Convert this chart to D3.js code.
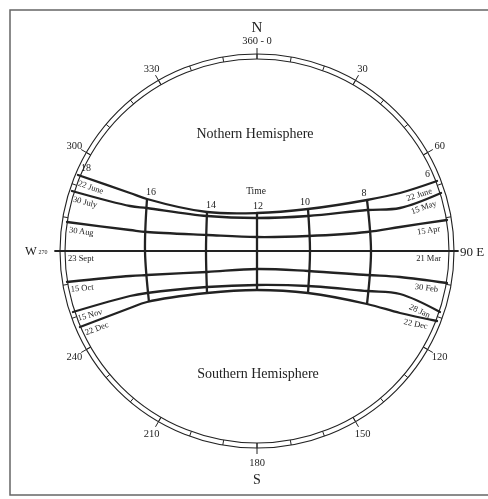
<!DOCTYPE html>
<html><head><meta charset="utf-8">
<script src="https://cdn.jsdelivr.net/npm/d3@7"></script>
<style>html,body{margin:0;padding:0;background:#fff;}svg{display:block;filter:grayscale(100%);}</style>
</head><body>
<svg id="c" width="488" height="499"></svg>
<script>
// ---- data (chart units: origin at dial centre, y up) ----
const compassDeg  = [0, 30, 60, 120, 150, 180, 210, 240, 300, 330];
const compassText = ["360 - 0", "30", "60", "120", "150", "180", "210", "240", "300", "330"];
const minorTickDeg = d3.range(0, 360, 10);

const leftDates  = ["22 June", "30 July", "30 Aug", "23 Sept", "15 Oct", "15 Nov", "22 Dec"];
const rightDates = ["22 June", "15 May", "15 Apr", "21 Mar", "30 Feb", "28 Jan", "22 Dec"];

const curveJune = [[-179,76],[-127,58],[-110,52],[-50,39],[0,38],[51,42],[110,51],[143,58],[180,70]];
const curveJuly = [[-185,60],[-127,45],[-110,43],[-50,35],[0,33],[51,35],[110,41],[143,43],[184,58]];
const curveAug  = [[-190,29],[-127,21],[-110,19],[-50,16],[0,14],[51,15],[110,19],[143,24],[190,31]];
const curveSept = [[-202,0],[201,0]];
const curveOct  = [[-190,-31],[-127,-25],[-110,-24],[-50,-21],[0,-18],[51,-20],[110,-24],[143,-26],[190,-32]];
const curveNov  = [[-184,-61],[-127,-45],[-110,-42],[-50,-36],[0,-34],[51,-35],[110,-40],[143,-43],[183,-61]];
const curveDec  = [[-177,-76],[-127,-57],[-110,-51],[-50,-42],[0,-39],[51,-42],[110,-53],[143,-62],[180,-70]];
const dateCurves = [curveJune, curveJuly, curveAug, curveSept, curveOct, curveNov, curveDec];

const hourLabels = ["18", "16", "14", "12", "10", "8", "6"];
const hour16 = [[-110,52],[-112,0],[-108,-51]];
const hour14 = [[-50,39],[-51,0],[-50,-42]];
const hour12 = [[0,38],[0,0],[0,-39]];
const hour10 = [[51,42],[53,0],[51,-42]];
const hour8  = [[110,51],[114,0],[110,-53]];
const hourLines = [hour16, hour14, hour12, hour10, hour8];

const ringOuter = 197, ringInner = 192, majorTickOut = 203, labelRadius = 211;

// ---- scales ----
const x = d3.scaleLinear().domain([-200, 200]).range([57, 457]);
const y = d3.scaleLinear().domain([-200, 200]).range([451, 51]);
const polar = (deg, r) => [x(r * Math.sin(deg * Math.PI / 180)), y(r * Math.cos(deg * Math.PI / 180))];

const svg = d3.select("#c");
const ink = "#222";
const serif = "'Liberation Serif','Times New Roman',serif";

// frame
svg.append("rect").attr("x", 10).attr("y", 10).attr("width", 500).attr("height", 485)
  .attr("fill", "none").attr("stroke", "#666").attr("stroke-width", 1.5);

// ring
const cx = x(0), cy = y(0);
[ringOuter, ringInner].forEach(r => {
  svg.append("circle").attr("cx", cx).attr("cy", cy).attr("r", x(r) - x(0))
    .attr("fill", "none").attr("stroke", ink).attr("stroke-width", 1.1);
});
svg.append("g").selectAll("line").data(minorTickDeg).join("line")
  .attr("x1", d => polar(d, ringInner)[0]).attr("y1", d => polar(d, ringInner)[1])
  .attr("x2", d => polar(d, ringOuter)[0]).attr("y2", d => polar(d, ringOuter)[1])
  .attr("stroke", ink).attr("stroke-width", 1);
svg.append("g").selectAll("line").data(compassDeg).join("line")
  .attr("x1", d => polar(d, ringInner)[0]).attr("y1", d => polar(d, ringInner)[1])
  .attr("x2", d => polar(d, majorTickOut)[0]).attr("y2", d => polar(d, majorTickOut)[1])
  .attr("stroke", ink).attr("stroke-width", 1);

// date curves
const line = d3.line().x(d => x(d[0])).y(d => y(d[1])).curve(d3.curveCatmullRom.alpha(0.5));
svg.append("g").selectAll("path").data(dateCurves).join("path")
  .attr("d", line).attr("fill", "none").attr("stroke", ink)
  .attr("stroke-width", (d, i) => i === 3 ? 1.8 : 2.3).attr("stroke-linecap", "round");

// hour lines
svg.append("g").selectAll("path").data(hourLines).join("path")
  .attr("d", line).attr("fill", "none").attr("stroke", ink).attr("stroke-width", 2.3);

// ---- text ----
const T = svg.append("g");

T.append("g").selectAll("text").data(compassDeg).join("text")
  .attr("x", d => polar(d, labelRadius)[0]).attr("y", d => polar(d, labelRadius)[1])
  .attr("text-anchor", "middle").attr("dy", "0.35em")
  .attr("font-family", serif).attr("font-size", 10.5).attr("fill", ink)
  .text((d, i) => compassText[i]);

const card = (t, px, py, fs, anchor) => T.append("text").attr("x", px).attr("y", py)
  .attr("text-anchor", anchor || "middle").attr("dy", "0.35em")
  .attr("font-family", serif).attr("font-size", fs).attr("fill", ink).text(t);
card("N", x(0), y(224), 15);
card("S", x(0), y(-228), 14);
card("W", x(-226), y(0), 12.5);
card("270", x(-214), y(-1), 6, "middle");
card("90 E", x(203), y(0), 13, "start");
card("Nothern Hemisphere", x(-2), y(118), 14);
card("Southern Hemisphere", x(1), y(-122), 14);
card("Time", x(-1), y(60), 9.5);

// hour labels
const hourAnchors = [curveJune[0]].concat(hourLines.map(h => h[0])).concat([curveJune[curveJune.length - 1]]);
T.append("g").selectAll("text").data(hourAnchors).join("text")
  .attr("x", (d, i) => x(d[0]) + (i === 0 ? 3 : i === 6 ? -7 : d[0] < 0 ? 4 : d[0] > 0 ? -3 : 1))
  .attr("y", (d, i) => y(d[1]) - 4)
  .attr("text-anchor", (d, i) => i === 0 ? "start" : i === 6 ? "end" : "middle")
  .attr("font-family", serif).attr("font-size", 10).attr("fill", ink)
  .text((d, i) => hourLabels[i]);

// date labels along the curves, just inside the rim
function slope(a, b) { return Math.atan2(y(b[1]) - y(a[1]), x(b[0]) - x(a[0])) * 180 / Math.PI; }
dateCurves.forEach((c, i) => {
  const n = c.length;
  const l0 = i === 3 ? [-192, 0] : c[0], l1 = i === 3 ? [-100, 0] : c[1];
  const r0 = i === 3 ? [192, 0] : c[n - 1], r1 = i === 3 ? [100, 0] : c[n - 2];
  const aL = slope(l0, l1), aR = slope(r1, r0);
  T.append("text")
    .attr("transform", `translate(${x(l0[0])},${y(l0[1])}) rotate(${aL})`)
    .attr("x", 3).attr("y", 7.5).attr("dy", "0.3em")
    .attr("font-family", serif).attr("font-size", 8.5).attr("fill", ink).text(leftDates[i]);
  T.append("text")
    .attr("transform", `translate(${x(r0[0])},${y(r0[1])}) rotate(${aR})`)
    .attr("x", -8).attr("y", 7.5).attr("dy", "0.3em").attr("text-anchor", "end")
    .attr("font-family", serif).attr("font-size", 8.5).attr("fill", ink).text(rightDates[i]);
});
</script>
</body></html>
